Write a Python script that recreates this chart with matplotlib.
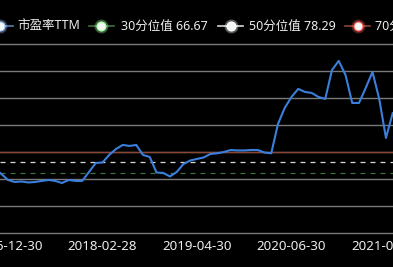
import numpy as np
import pandas as pd
import matplotlib
matplotlib.use("Agg")
import matplotlib.pyplot as plt
from matplotlib.lines import Line2D

plt.rcParams['font.family'] = ['Noto Sans', 'Noto Sans CJK SC', 'DejaVu Sans']

# monthly PE (TTM), 2016-10 .. 2021-10
months = pd.period_range('2016-10', '2021-10', freq='M')
pe_ttm = [72.2, 65.5, 58.8, 56.5, 57.1, 56.0, 56.5, 57.7, 58.8, 57.7,
          55.4, 58.8, 57.7, 57.7, 67.7, 77.7, 78.3, 86.7, 93.3, 97.8,
          96.7, 97.8, 86.7, 84.4, 67.1, 66.6, 62.7, 67.7, 76.6, 80.5,
          82.2, 83.9, 87.8, 88.5, 90.0, 92.2, 91.7, 91.7, 92.2, 92.2,
          89.4, 88.5, 121.2, 139.1, 151.3, 160.3, 156.9, 155.8, 151.3, 149.1,
          181.4, 191.5, 175.9, 144.6, 144.6, 161.4, 179.2, 149.1, 105.6, 133.5,
          122.0]

tick_labels = ['2016-12-30', '2018-02-28', '2019-04-30', '2020-06-30', '2021-08-31']

pct_names = ['30分位值', '50分位值', '70分位值']
pct_values = [66.67, 78.29, 89.71]
pct_colors = ['#3f6e3f', '#d8d8d8', '#8c4632']
pct_styles = [(0, (4, 4)), (0, (4, 4)), '-']

line_color = '#3b7fdc'
grid_color = '#7a7a7a'
text_color = '#ececec'

W, H = 393, 267
fig = plt.figure(figsize=(W / 100, H / 100), dpi=100, facecolor='black')
ax = fig.add_axes([0, (H - 232.7) / H, 1, (232.7 - 44.3) / H])
ax.set_facecolor('black')

x = np.arange(len(months))
ax.set_xlim(0.815, 59.04)
ax.set_ylim(0, 210)
ax.set_yticks(range(0, 211, 30))
ax.yaxis.grid(True, color=grid_color, linewidth=1.0)
for gl in ax.get_ygridlines():
    gl.set_clip_on(False)
ax.set_axisbelow(True)
for s in ax.spines.values():
    s.set_visible(False)
ax.tick_params(axis='y', left=False, labelleft=False)

month_keys = [str(m) for m in months]
tick_pos = [month_keys.index(t[:7]) for t in tick_labels]
ax.set_xticks(tick_pos)
ax.set_xticklabels(tick_labels, color=text_color, fontsize=9.6)
ax.tick_params(axis='x', length=0, pad=5.5)

for v, c, ls in zip(pct_values, pct_colors, pct_styles):
    ax.axhline(v, color=c, linestyle=ls, linewidth=0.9)

ax.plot(x, pe_ttm, color=line_color, linewidth=1.5)

# legend, drawn by hand so it can run off the left and right edges
legend_names = ['市盈率TTM'] + [f'{n} {v:.2f}' for n, v in zip(pct_names, pct_values)]
legend_colors = ['#5a7fb0'] + pct_colors
glow_colors = ['#9fc4ff', '#9cff9c', '#ffffff', '#ff5a5a']
icon_x = [0, 101, 230.5, 357.5]
text_x = [17, 121, 249, 375]
ly = (H - 26) / H
for name, c, g, ix, tx in zip(legend_names, legend_colors, glow_colors, icon_x, text_x):
    fig.add_artist(Line2D([(ix - 12.5) / W, (ix + 12.5) / W], [ly, ly],
                          transform=fig.transFigure, color=c, linewidth=1.2))
    fig.add_artist(Line2D([ix / W], [ly], transform=fig.transFigure, marker='o',
                          markersize=10, markerfacecolor=g, markeredgecolor='none',
                          alpha=0.35, linestyle='none'))
    fig.add_artist(Line2D([ix / W], [ly], transform=fig.transFigure, marker='o',
                          markersize=6.5, markerfacecolor='#f4f8f4',
                          markeredgecolor=g, markeredgewidth=0.8, linestyle='none'))
    fig.text(tx / W, ly, name, color=text_color, fontsize=9.0, va='center', ha='left')

fig.savefig('out.png', dpi=100, facecolor='black')
